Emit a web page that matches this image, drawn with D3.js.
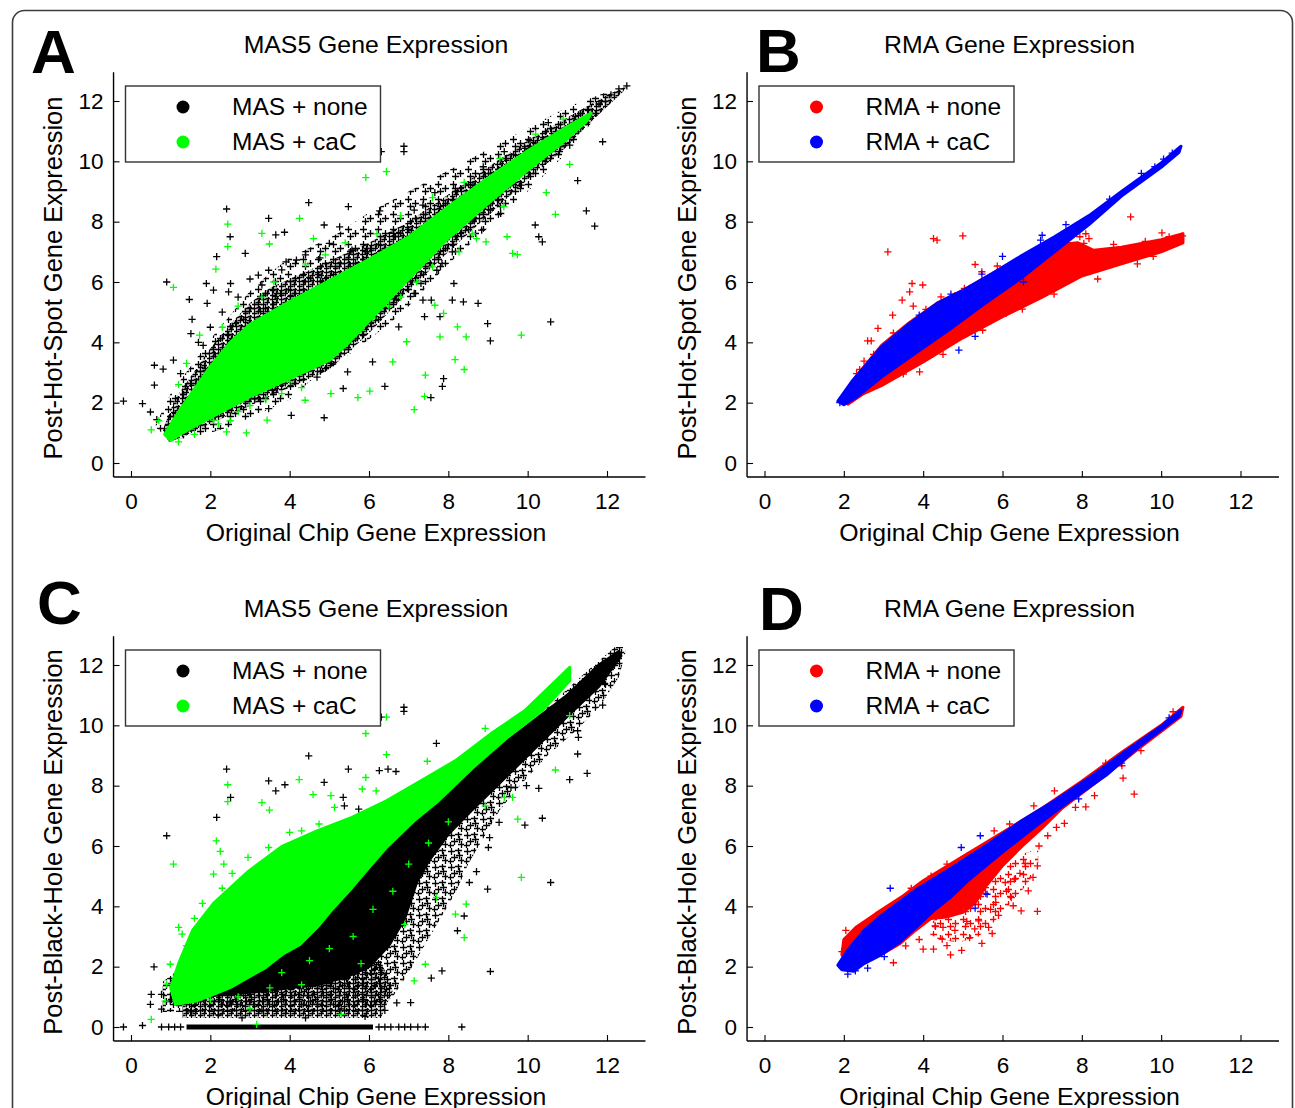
<!DOCTYPE html>
<html><head><meta charset="utf-8">
<script src="https://cdn.jsdelivr.net/npm/d3@7"></script>
<style>
body{margin:0;background:#fff;}
svg{display:block;font-family:"Liberation Sans",Arial,Helvetica,sans-serif;}
</style></head><body>
<svg id="chart" width="1295" height="1108"></svg>
<script>
// ---------------- DATA ----------------
const xTicks = [0,2,4,6,8,10,12];
const yTicks = [0,2,4,6,8,10,12];
const panelLetters = ["A","B","C","D"];
const panelTitles = ["MAS5 Gene Expression","RMA Gene Expression","MAS5 Gene Expression","RMA Gene Expression"];
const xLabel = "Original Chip Gene Expression";
const yLabels = ["Post-Hot-Spot Gene Expression","Post-Hot-Spot Gene Expression","Post-Black-Hole Gene Expression","Post-Black-Hole Gene Expression"];
const seriesNames = [["MAS + none","MAS + caC"],["RMA + none","RMA + caC"],["MAS + none","MAS + caC"],["RMA + none","RMA + caC"]];

// Panel A : dense regions (outlines) and isolated points
const aNoneHalo = [[0.6,1.2],[1.0,2.3],[1.5,3.2],[2.0,4.1],[2.5,4.9],[3.0,5.7],[3.5,6.3],[4.0,6.8],[4.6,7.2],[5.2,7.6],[6.0,8.3],[7.0,9.0],[8.0,9.7],[9.0,10.4],[10.0,11.1],[11.0,11.8],[12.0,12.3],
  [12.0,11.9],[11.0,10.3],[10.0,9.0],[9.0,7.8],[8.0,6.6],[7.5,5.9],[7.0,5.2],[6.5,4.6],[6.0,4.1],[5.5,3.6],[5.0,3.1],[4.5,2.7],[4.0,2.1],[3.5,1.8],[3.0,1.5],[2.5,1.2],[2.0,1.0],[1.5,0.85],[1.0,0.75]];
const aNoneCore = [[0.8,1.1],[1.1,2.1],[2.0,3.8],[2.5,4.6],[3.0,5.3],[3.5,5.8],[4.0,6.1],[5.0,6.7],[6.0,7.3],[7.0,8.0],[8.0,8.9],[9.0,9.8],[10.0,10.7],[11.0,11.45],[12.0,12.2],[12.5,12.5],
  [12.4,12.3],[11.5,11.2],[11.0,10.5],[10.0,9.4],[9.0,8.2],[8.0,7.0],[7.0,5.7],[6.0,4.3],[5.0,3.1],[4.0,2.5],[3.0,1.9],[2.0,1.3],[1.3,0.85],[0.95,0.7]];
const aCaCCore = [[0.85,0.95],[1.2,1.7],[2.0,3.2],[2.5,4.0],[3.0,4.6],[4.0,5.35],[5.0,6.05],[6.0,6.75],[7.0,7.5],[8.0,8.5],[9.0,9.45],[10.0,10.35],[11.0,11.15],[11.6,11.6],
  [11.5,11.35],[11.0,10.75],[10.0,9.7],[9.0,8.6],[8.0,7.45],[7.0,6.1],[6.5,5.4],[6.0,4.7],[5.5,4.0],[5.0,3.4],[4.0,2.8],[3.0,2.2],[2.0,1.5],[1.3,1.0],[1.0,0.75]];
const aNoneOut = [[-0.19,2.05],[0.29,1.97],[0.49,1.69],[0.65,1.44],[0.59,2.58],[0.59,3.24],[0.81,3.11],[0.9,6.0],[1.47,5.42],[1.54,4.76],[2.16,6.84],[2.41,8.42],[2.5,7.5],[2.88,6.95],[3.47,8.11],[3.65,7.56],[3.87,7.65],[4.48,8.63],[4.87,7.89],[5.48,8.5],[6.31,10.32],[6.88,10.5],[6.88,10.32],[10.52,11.28],[11.89,10.65],[11.26,9.36],[11.48,8.36],[11.69,7.85],[10.19,7.89],[10.28,7.5],[10.37,7.33],[10.58,4.68],[9.06,4.05],[8.75,5.29],[8.99,4.62],[8.38,5.34],[8.14,5.95],[8.1,5.4],[7.79,4.85],[7.57,5.4],[7.4,4.85],[7.36,5.4],[6.75,4.51],[6.09,3.35],[5.46,3.02],[4.87,1.5],[5.35,2.47],[6.4,2.54],[7.56,2.17],[7.85,2.54],[7.88,2.8],[4.04,1.58],[3.47,1.8],
  [1.51,4.29],[1.07,3.41],[1.25,2.96],[1.82,3.9],[1.9,5.95],[2.08,5.73],[1.92,5.29],[2.51,5.95],[2.46,5.67],[3.21,6.23],[3.47,6.39],[3.91,6.67],[4.17,6.73],[4.76,6.8],[5.0,7.28],[5.26,7.83],[5.57,7.06],[5.96,7.0],[6.27,8.36],[6.62,7.61],[7.14,8.38],[7.36,8.55],[7.66,8.96],[8.18,9.1],[8.62,9.21],[8.88,9.82],[9.41,10.32],[9.93,10.43],[10.06,10.69],[10.8,10.82],[11.06,10.54],[10.8,10.32],[9.58,9.82],[9.84,9.21],[9.32,8.27],[9.06,8.38],[8.84,7.72],[8.62,8.05],[8.1,7.0],[7.84,6.62],[7.71,6.39],[7.31,5.95],[7.14,5.62],[6.7,5.4],[6.4,5.84],[6.0,5.29],[5.74,4.85],[5.57,4.51],[5.48,4.18],[5.22,3.85],[5.04,3.3],[4.69,3.63],[4.52,3.19],[4.17,3.08],[3.82,2.63],[3.56,2.41],[3.12,2.13],[2.77,2.08],[2.43,1.75],[2.08,1.53],[4.69,2.85],[12.1,12.2],[12.3,12.4],[12.5,12.5],[11.8,11.9],
  [2.3,5.0],[2.7,5.5],[3.0,6.1],[3.3,5.9],[3.8,6.4],[2.0,4.5],[1.7,4.0],[4.4,6.9]];
const aCaCOut = [[0.51,1.1],[1.07,5.82],[2.14,6.43],[2.44,7.92],[2.44,7.17],[3.3,7.61],[3.49,7.26],[4.25,8.11],[4.6,7.44],[5.92,9.46],[6.44,9.66],[11.06,9.9],[10.47,8.96],[10.7,8.24],[9.62,6.95],[9.74,6.91],[9.84,4.24],[8.71,7.44],[8.95,7.33],[8.27,7.0],[9.48,7.5],[8.45,4.18],[8.23,4.51],[7.79,4.18],[8.17,3.43],[8.4,3.1],[6.95,4.02],[6.6,3.35],[7.42,2.91],[7.4,2.21],[7.14,1.77],[6.02,2.38],[5.72,2.17],[5.04,2.3],[4.39,2.08],[3.43,1.42],[2.91,1.0],[2.41,1.03],[2.08,1.42],[7.88,4.96],[7.66,5.23],
  [1.73,4.24],[1.4,3.3],[1.2,2.6],[0.7,1.4],[2.3,4.5],[2.7,5.2],[3.3,5.5],[3.6,6.0],[4.4,6.6],[4.9,6.9],[5.4,7.3],[6.2,7.6],[6.8,8.2],[7.6,8.8],[8.4,9.3],[9.3,10.1],[10.2,10.9],[10.9,11.4],[9.4,8.5],[8.6,7.6],[7.6,6.5],[7.2,6.0],[6.5,5.2],[6.1,4.8],[5.5,4.2],[5.1,3.6],[4.6,3.2],[4.0,2.7],[3.4,2.1],[2.7,1.7],[2.2,1.3],[1.6,0.95],[1.2,0.7],[5.8,4.4],[6.8,5.5],[3.8,2.3],[4.3,2.5],[3.0,1.9],[2.5,1.4]];

// Panel B
const bNoneCore = [[1.95,2.1],[2.3,2.85],[2.95,3.9],[3.65,4.65],[4.35,5.3],[5.04,5.75],[5.74,6.28],[6.44,6.8],[7.0,7.05],[7.5,7.25],[7.9,7.3],[8.3,7.05],[9.0,7.15],[10.0,7.4],[10.55,7.6],
  [10.55,7.3],[10.0,7.0],[9.0,6.6],[8.0,6.2],[7.0,5.5],[6.0,4.85],[5.0,4.15],[4.0,3.35],[3.0,2.6],[2.5,2.3],[2.1,1.95]];
const bCaCCore = [[1.85,2.05],[2.2,2.7],[2.95,3.85],[3.65,4.62],[4.35,5.29],[5.04,5.75],[5.74,6.28],[6.44,6.84],[7.31,7.5],[8.18,8.2],[9.0,9.0],[10.0,9.95],[10.5,10.5],
  [10.45,10.3],[10.0,9.8],[9.0,8.85],[8.18,7.9],[7.31,7.0],[6.44,6.1],[5.57,5.3],[4.69,4.45],[3.82,3.65],[2.95,2.85],[2.34,2.2],[2.0,1.93]];
const bNoneOut = [[3.11,7.0],[4.26,7.44],[4.35,7.39],[5.0,7.53],[9.23,8.16],[10.02,7.63],[10.32,7.44],[10.54,7.53],[5.31,6.58],[5.48,6.34],[5.87,6.53],[3.72,5.95],[3.99,5.9],[3.66,5.67],[3.47,5.4],[3.75,5.2],[3.23,4.9],[4.07,5.09],[2.86,4.46],[2.6,4.05],[2.69,4.05],[3.25,4.31],[2.51,3.38],[2.32,2.96],[3.91,3.02],[4.45,5.51],[5.04,5.79],[4.78,5.51],[6.09,4.96],[6.96,5.56],[7.4,5.95],[7.66,7.28],[8.05,7.28],[8.18,7.44],[7.84,7.72],[7.7,7.55],[7.95,7.5],[8.1,7.6],[7.5,7.4],[8.0,7.8],[2.2,2.55],[2.4,3.1],[2.75,3.6],[3.5,2.95],[4.5,3.6],[5.5,4.4],[6.5,5.1],[7.3,5.6],[8.4,6.1],[9.4,6.6],[9.8,6.85],[8.8,7.25],[9.6,7.35],[10.2,7.5],[6.2,6.4],[5.6,6.0],[4.8,5.55]];
const bCaCOut = [[5.31,4.2],[4.9,3.74],[10.28,10.27],[10.06,10.07],[9.84,9.82],[8.14,7.94],[5.48,6.26],[6.53,6.0],[6.96,7.39],[1.9,2.0],[2.1,2.4],[9.5,9.6],[8.7,8.75],[7.6,7.9],[7.0,7.55],[6.0,6.85],[4.7,5.6],[3.9,4.9],[3.3,4.1]];

// Panel C
const cNoneHalo = [[0.8,0.5],[0.8,1.5],[1.5,2.2],[2.5,3.0],[3.5,3.8],[4.5,4.8],[5.5,5.8],[6.5,7.0],[8.0,8.4],[10.0,10.0],[11.5,11.8],[12.2,12.6],[12.5,12.6],[12.3,11.6],[11.8,10.6],[11.2,9.8],[10.5,9.0],[9.8,8.0],[9.3,7.2],[8.9,6.3],[8.5,5.4],[8.2,4.5],[7.8,3.6],[7.4,2.7],[7.0,1.8],[6.6,1.0],[6.0,0.5]];
const cNoneLow = [[1.3,0.3],[6.3,0.3],[6.6,1.2],[6.3,2.2],[5.5,1.7],[4.0,1.3],[2.5,1.1],[1.3,1.0]];
const cNoneCore = [[1.2,1.4],[2.0,1.8],[3.0,2.3],[4.0,3.0],[5.0,4.2],[6.0,5.5],[7.0,6.9],[8.0,8.0],[9.0,9.0],[10.0,10.0],[11.0,11.0],[11.8,12.0],[12.3,12.45],
  [12.35,12.3],[11.8,11.3],[11.0,10.3],[10.0,9.0],[9.3,8.1],[8.6,7.2],[8.0,6.4],[7.5,5.5],[7.2,4.8],[6.9,3.6],[6.5,2.7],[6.0,2.0],[5.5,1.7],[4.7,1.4],[4.0,1.3],[3.4,1.2],[2.5,1.1],[1.8,1.0],[1.2,1.0]];
const cNoneZeroRow = [1.4,6.1];
const cCaCCore = [[1.0,1.3],[1.2,2.1],[1.55,3.2],[2.08,4.1],[2.95,5.15],[3.82,6.0],[4.69,6.5],[5.57,6.95],[6.44,7.5],[7.31,8.16],[8.18,8.83],[9.06,9.71],[9.93,10.49],[10.8,11.59],[11.06,11.92],
  [11.06,11.48],[10.37,10.49],[9.49,9.6],[8.62,8.6],[7.75,7.5],[7.14,6.84],[6.44,5.95],[6.0,5.29],[5.57,4.62],[5.04,3.85],[4.69,3.3],[4.26,2.74],[3.82,2.41],[3.39,1.97],[2.95,1.64],[2.51,1.31],[2.08,1.08],[1.64,0.86],[1.12,0.75]];
const cNoneOut = [[0.9,6.34],[0.58,1.99],[2.41,8.55],[2.51,7.61],[2.16,6.95],[3.47,8.16],[3.65,7.83],[3.88,8.03],[4.48,8.99],[4.87,8.11],[5.48,8.55],[5.35,7.61],[5.38,7.33],[5.74,7.22],[6.26,8.5],[6.48,8.55],[6.68,8.47],[6.88,10.6],[6.88,10.46],[6.31,10.27],[7.7,9.4],[11.89,10.67],[11.94,11.39],[11.26,9.82],[11.28,9.6],[11.26,9.05],[11.5,8.41],[11.06,8.2],[10.37,6.92],[10.58,4.79],[9.93,6.69],[10.28,7.91],[9.97,8.0],[9.06,1.84],[8.99,4.57],[8.71,5.15],[8.53,4.79],[8.4,3.68],[8.23,3.19],[7.84,1.86],[7.57,1.62],[7.05,0.81],[9.04,6.28],[9.01,5.95],[9.28,6.78],[9.58,7.94],[0.51,1.08],[0.77,1.08],[0.49,0.75],[0.77,0.59],[0.99,0.86],
  [1.5,0.5],[2.2,0.4],[2.8,0.3],[3.3,0.55],[3.9,0.45],[4.4,0.3],[5.3,0.6],[5.9,0.35],[6.4,0.55],[6.7,0.8],[4.7,0.75],[2.5,0.8],
  [-0.19,0],[0.29,0.05],[0.77,0],[0.95,0],[1.1,0],[1.25,0],[6.25,0],[6.4,0],[6.55,0],[6.75,0],[6.9,0],[7.05,0],[7.23,0],[7.42,0],[8.34,0]];
const cCaCOut = [[0.51,0.25],[1.07,5.4],[2.15,6.17],[2.25,5.82],[2.44,8.03],[2.44,7.47],[3.3,7.44],[3.49,7.19],[4.24,8.2],[4.59,7.7],[5.92,9.73],[6.44,10.27],[6.44,9.03],[7.47,8.81],[8.93,9.9],[11.06,10.32],[10.7,8.52],[9.84,4.96],[8.45,4.07],[8.4,2.96],[8.18,3.74],[7.42,2.08],[7.14,1.53],[9.75,6.89],[9.41,7.61],[9.62,7.61],[8.93,7.33],[5.3,0.42],[3.17,0.09],[2.08,5.07],[2.34,5.4],[2.55,5.09],[2.95,5.62],[3.47,5.95],[4.0,6.45],[4.3,6.5],[4.74,6.73],[5.13,7.28],[5.48,6.62],[5.04,7.67],[5.83,7.89],[6.18,7.83],[5.92,8.27],[1.2,3.3],[1.29,3.08],[0.99,2.08],[0.9,1.42],[0.86,0.86],
  [1.6,3.6],[1.8,4.1],[2.3,4.6],[1.4,2.7],
  [4.5,2.2],[5.0,2.6],[5.6,3.0],[6.1,3.9],[6.6,4.5],[7.0,5.4],[7.5,6.1],[8.0,6.8],[3.8,1.8],[4.3,1.4],[5.8,2.1],[6.9,3.4],[7.7,4.3],[2.7,1.0],[3.5,1.3],[2.0,0.9],[3.0,0.6]];

// Panel D
const dNoneCore = [[1.95,2.4],[2.0,2.9],[2.3,3.3],[2.8,3.75],[3.5,4.35],[4.0,4.85],[5.0,5.65],[6.0,6.45],[7.0,7.25],[8.0,8.15],[9.0,9.1],[10.0,10.0],[10.55,10.6],
  [10.5,10.3],[9.5,9.3],[8.5,8.25],[7.5,7.25],[7.0,6.6],[6.5,6.0],[6.0,5.35],[5.6,4.7],[5.3,4.1],[5.0,3.8],[4.6,3.65],[4.2,3.6],[3.8,3.2],[3.4,2.75],[3.0,2.45],[2.5,2.3],[2.0,2.3]];
const dNoneSpill = [[4.0,3.2],[4.4,2.9],[4.9,2.8],[5.4,3.0],[5.8,3.5],[6.2,4.1],[6.6,4.7],[6.9,5.3],[6.9,5.9],[6.4,5.7],[5.9,5.1],[5.4,4.5],[4.9,4.0],[4.4,3.7]];
const dCaCCore = [[1.85,2.05],[2.1,2.55],[2.51,3.2],[2.95,3.7],[3.82,4.55],[4.69,5.25],[5.57,6.0],[6.44,6.8],[7.31,7.5],[8.18,8.25],[9.06,9.1],[9.93,9.9],[10.5,10.5],
  [10.45,10.3],[9.49,9.35],[8.62,8.35],[7.75,7.55],[6.88,6.7],[6.0,5.8],[5.13,4.85],[4.69,4.3],[4.26,3.85],[3.82,3.3],[3.39,2.8],[2.95,2.4],[2.51,2.1],[2.25,1.85],[1.95,1.9]];
const dNoneOut = [[3.25,2.13],[3.56,2.69],[4.0,2.58],[4.26,2.58],[4.69,2.39],[4.97,2.54],[4.48,2.91],[5.17,2.96],[5.48,2.77],[5.65,3.3],[5.74,3.1],[5.4,3.52],[5.83,4.13],[6.22,4.29],[6.27,4.02],[6.47,3.85],[6.65,4.51],[6.88,3.83],[6.77,4.96],[6.88,5.34],[6.44,5.09],[6.57,5.42],[6.07,4.79],[5.92,5.29],[6.92,6.0],[7.14,6.34],[7.36,6.62],[7.56,6.75],[7.84,7.28],[8.1,7.3],[8.32,7.67],[9.32,7.72],[9.04,8.25],[9.01,8.66],[9.49,9.16],[7.31,7.83],[6.79,7.33],[6.18,6.73],[5.79,6.5],[5.48,4.85],[5.57,4.62],[4.6,5.4],[4.2,5.0],[3.7,4.6],[8.6,8.75],[10.3,10.45],[1.95,2.5],[2.05,3.2],
  [4.5,3.3],[4.8,3.2],[5.1,3.5],[5.3,3.25],[4.3,3.35],[3.9,2.9],[4.6,2.7],[5.9,3.7],[6.1,4.5],[6.3,4.9],[5.7,3.9]];
const dCaCOut = [[3.17,4.6],[5.44,6.34],[4.96,5.95],[5.31,3.94],[5.61,4.4],[2.29,1.86],[3.02,2.33],[7.92,7.56],[2.1,1.75],[2.6,1.95],[9.0,8.75],[10.2,10.25]];

// ---------------- DRAWING ----------------
const COLORS = {black:"#000000", green:"#00ff00", red:"#ff0000", blue:"#0000ff"};
const FONT = "'Liberation Sans', Arial, Helvetica, sans-serif";
const svg = d3.select("#chart");
const defs = svg.append("defs");

function plusPath(cx, cy, a){ return `M${cx-a},${cy}H${cx+a}M${cx},${cy-a}V${cy+a}`; }
function makePattern(id, color, tile, pts, arm, sw){
  const p = defs.append("pattern").attr("id", id).attr("patternUnits","userSpaceOnUse")
    .attr("width", tile).attr("height", tile);
  p.append("path").attr("d", pts.map(q => plusPath(q[0], q[1], arm)).join(""))
    .attr("stroke", color).attr("stroke-width", sw).attr("fill","none");
}
// texture tiles (pixel positions inside one tile)
const sparseTile = [[3.5,4.5],[10.5,8.5],[5.5,11.5]];
const mediumTile = [[3.5,3.5],[10.5,2.5],[6.5,9.5],[13.5,12.5],[2.5,13.5],[11.5,7.5]];
const denseTile = [[2.5,2.5],[6.5,5.5],[2.5,7.5],[7.5,1.5]];
Object.entries(COLORS).forEach(([k,c]) => {
  makePattern("sp-"+k, c, 15, sparseTile, 3.5, 1.3);
  makePattern("md-"+k, c, 16, mediumTile, 3.5, 1.3);
  makePattern("dn-"+k, c, 9, denseTile, 3, 1.3);
});

// outer frame
svg.append("rect").attr("x",12.5).attr("y",10.5).attr("width",1280).attr("height",1140)
  .attr("rx",12).attr("fill","none").attr("stroke","#3c3c3c").attr("stroke-width",1.6);

const panels = [
  {ox:0, oy:0, lx:31, ly:73,
   layers:[{poly:aNoneHalo, fill:"url(#sp-black)"},{poly:aNoneCore, fill:"url(#dn-black)"},{pts:aNoneOut, color:COLORS.black},
           {poly:aCaCCore, fill:COLORS.green, stroke:COLORS.green},{pts:aCaCOut, color:COLORS.green}],
   legend:[COLORS.black, COLORS.green]},
  {ox:633.5, oy:0, lx:756, ly:72,
   layers:[{poly:bNoneCore, fill:COLORS.red, stroke:COLORS.red},{pts:bNoneOut, color:COLORS.red},
           {poly:bCaCCore, fill:COLORS.blue, stroke:COLORS.blue},{pts:bCaCOut, color:COLORS.blue}],
   legend:[COLORS.red, COLORS.blue]},
  {ox:0, oy:564, lx:37, ly:624,
   layers:[{poly:cNoneHalo, fill:"url(#md-black)"},{poly:cNoneLow, fill:"url(#dn-black)"},{poly:cNoneCore, fill:COLORS.black, stroke:COLORS.black},{row:cNoneZeroRow},{pts:cNoneOut, color:COLORS.black},
           {poly:cCaCCore, fill:COLORS.green, stroke:COLORS.green},{pts:cCaCOut, color:COLORS.green}],
   legend:[COLORS.black, COLORS.green]},
  {ox:633.5, oy:564, lx:759, ly:630,
   layers:[{poly:dNoneSpill, fill:"url(#sp-red)"},{poly:dNoneCore, fill:COLORS.red, stroke:COLORS.red},{pts:dNoneOut, color:COLORS.red},
           {poly:dCaCCore, fill:COLORS.blue, stroke:COLORS.blue},{pts:dCaCOut, color:COLORS.blue}],
   legend:[COLORS.red, COLORS.blue]}
];

panels.forEach((P, i) => {
  const x = d3.scaleLinear().domain([0,12]).range([131 + P.ox, 607 + P.ox]);
  const y = d3.scaleLinear().domain([0,12]).range([463 + P.oy, 101 + P.oy]);
  const g = svg.append("g");
  const axisY = y(-0.465), axisX = x(-0.44);

  g.append("text").attr("x", P.lx).attr("y", P.ly).text(panelLetters[i])
    .attr("font-family", FONT).attr("font-weight","bold").attr("font-size", 62).attr("fill","#000");
  g.append("text").attr("x", 376 + P.ox).attr("y", 53 + P.oy).attr("text-anchor","middle")
    .attr("font-family", FONT).attr("font-size", 24.8).text(panelTitles[i]);
  g.append("text").attr("x", 376 + P.ox).attr("y", 541 + P.oy).attr("text-anchor","middle")
    .attr("font-family", FONT).attr("font-size", 24.8).text(xLabel);
  g.append("text").attr("transform", `translate(${62 + P.ox},${278 + P.oy}) rotate(-90)`).attr("text-anchor","middle")
    .attr("font-family", FONT).attr("font-size", 25.5).text(yLabels[i]);

  const clipId = "clip"+i;
  defs.append("clipPath").attr("id", clipId).append("rect")
    .attr("x", axisX).attr("y", y(12.95)).attr("width", x(12.97) - axisX).attr("height", axisY - y(12.95));
  const plot = g.append("g").attr("clip-path", `url(#${clipId})`);
  const line = d3.line().x(d => x(d[0])).y(d => y(d[1])).curve(d3.curveLinearClosed);
  P.layers.forEach(L => {
    if (L.poly) {
      plot.append("path").attr("d", line(L.poly)).attr("fill", L.fill)
        .attr("stroke", L.stroke || "none").attr("stroke-width", L.stroke ? 3 : 0)
        .attr("stroke-linejoin","round");
    } else if (L.pts) {
      plot.append("g").selectAll("path").data(L.pts).join("path")
        .attr("d", d => plusPath(x(d[0]), y(d[1]), 3.6))
        .attr("stroke", L.color).attr("stroke-width", 1.3).attr("fill","none");
    } else if (L.row) {
      plot.append("rect").attr("x", x(L.row[0])).attr("width", x(L.row[1]) - x(L.row[0]))
        .attr("y", y(0) - 2.5).attr("height", 5).attr("fill", "#000");
    }
  });

  const xa = g.append("g").attr("transform", `translate(0,${axisY})`)
    .call(d3.axisBottom(x).tickValues(xTicks).tickSizeInner(-6).tickSizeOuter(0).tickPadding(16));
  const ya = g.append("g").attr("transform", `translate(${axisX},0)`)
    .call(d3.axisLeft(y).tickValues(yTicks).tickSizeInner(-6).tickSizeOuter(0).tickPadding(10));
  [xa, ya].forEach(a => {
    a.select(".domain").remove();
    a.attr("font-family", FONT).attr("font-size", 22.5);
    a.selectAll("text").attr("fill","#000");
    a.selectAll("line").attr("stroke","#000").attr("stroke-width",1.1);
  });
  g.append("line").attr("x1", axisX).attr("x2", x(12.97)).attr("y1", axisY).attr("y2", axisY)
    .attr("stroke","#000").attr("stroke-width",1.4);
  g.append("line").attr("x1", axisX).attr("x2", axisX).attr("y1", y(12.95)).attr("y2", axisY)
    .attr("stroke","#000").attr("stroke-width",1.4);

  const lg = g.append("g").attr("transform", `translate(${125.5 + P.ox},${86 + P.oy})`);
  lg.append("rect").attr("width", 255).attr("height", 76).attr("fill","#fff")
    .attr("stroke","#333").attr("stroke-width",1.4);
  seriesNames[i].forEach((name, k) => {
    lg.append("circle").attr("cx", 57.5).attr("cy", 21 + 35*k).attr("r", 6.5).attr("fill", P.legend[k]);
    lg.append("text").attr("x", 106.5).attr("y", 29 + 35*k).attr("font-family", FONT)
      .attr("font-size", 24.5).text(name);
  });
});
</script>
</body></html>
